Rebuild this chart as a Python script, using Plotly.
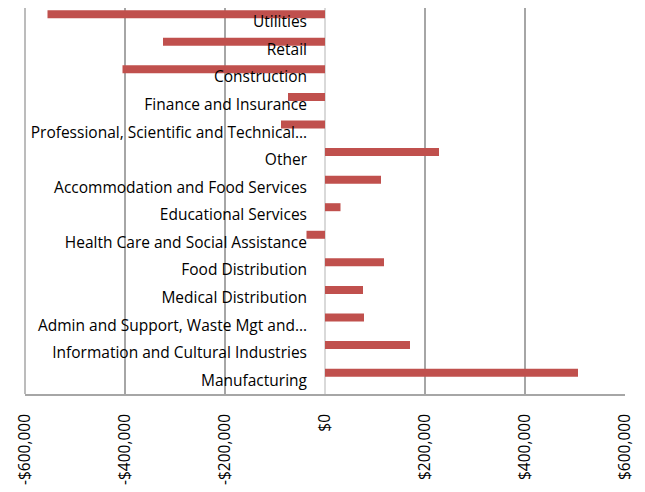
import plotly.graph_objects as go

categories = [
    "Utilities",
    "Retail",
    "Construction",
    "Finance and Insurance",
    "Professional, Scientific and Technical…",
    "Other",
    "Accommodation and Food Services",
    "Educational Services",
    "Health Care and Social Assistance",
    "Food Distribution",
    "Medical Distribution",
    "Admin and Support, Waste Mgt and…",
    "Information and Cultural Industries",
    "Manufacturing",
]
values = [-555000, -324000, -405000, -74000, -88000, 228000, 112000,
          31000, -37000, 118000, 76000, 78000, 170000, 506000]

tick_vals = [-600000, -400000, -200000, 0, 200000, 400000, 600000]
tick_text = ["-$600,000", "-$400,000", "-$200,000", "$0",
             "$200,000", "$400,000", "$600,000"]

FONT = "Open Sans, Calibri, sans-serif"
GRID = "#A6A6A6"

fig = go.Figure()
fig.add_trace(go.Bar(
    y=categories, x=values, orientation="h",
    marker=dict(color="#C0504D", line=dict(width=0)),
    width=0.29, offset=-0.42,
    hoverinfo="x+y",
))

# plotly drops the gridline on the left edge, draw it as a frame line
fig.add_shape(type="line", xref="paper", yref="paper",
              x0=0, x1=0, y0=0, y1=1,
              line=dict(color=GRID, width=1.5), layer="above")

# page body keeps its default 8px margin, so margins are shifted by 8px
fig.update_layout(
    width=645, height=492,
    margin=dict(l=17, r=28, t=0, b=106),
    paper_bgcolor="white", plot_bgcolor="white",
    showlegend=False,
    font=dict(family=FONT, size=15.5, color="#000000"),
    xaxis=dict(
        range=[-600000, 600000], tickvals=tick_vals, ticktext=tick_text,
        tickangle=-90, showgrid=True, gridcolor=GRID, gridwidth=1.5,
        zeroline=True, zerolinecolor="#D9D9D9", zerolinewidth=1.5,
        showline=True, linecolor=GRID, linewidth=1.5,
        ticks="", ticklabelstandoff=12, fixedrange=True, automargin=False,
    ),
    yaxis=dict(
        autorange="reversed", anchor="free", position=0.5,
        showgrid=False, zeroline=False, showline=False,
        ticks="", ticklabelstandoff=18, fixedrange=True, automargin=False,
    ),
)

fig.write_html("out.html")
